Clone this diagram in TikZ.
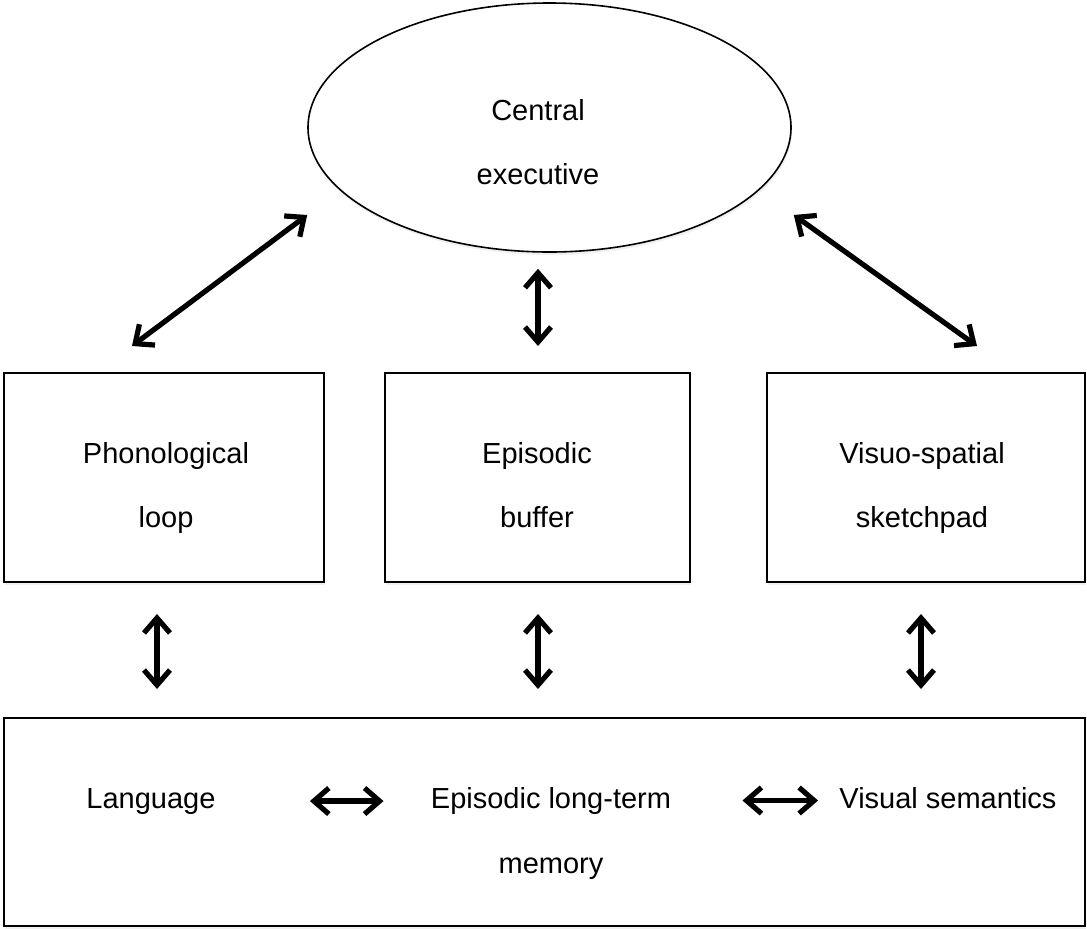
\documentclass[tikz,border=0pt]{standalone}
\usepackage{fontspec}
\setmainfont{Liberation Sans}
\usetikzlibrary{positioning,arrows.meta,shapes.geometric,shadows}

\begin{document}
\begin{tikzpicture}[x=0.5pt,y=-0.5pt,
    box/.style={draw,line width=1pt,fill=white,inner sep=0pt,
        drop shadow={opacity=0.12,shadow xshift=0.5pt,shadow yshift=-1.5pt}},
    txt/.style={anchor=base,inner sep=0pt,font=\fontsize{14.5}{17}\selectfont},
    dbl/.style={{Straight Barb[length=7.5pt,width=13pt]}-{Straight Barb[length=7.5pt,width=13pt]},
        line width=2.6pt,line cap=round,line join=round}]
    \useasboundingbox (0,0) rectangle (1087,928);

    % central executive
    \node [box,ellipse,line width=0.8pt,minimum width=241.5pt,minimum height=124.5pt] (ce) at (549.5,127.5) {};
    \node [txt] (ce1) at (538,120) {Central};
    \node [txt] (ce2) at (538,184) {executive};

    % slave systems
    \node [box,minimum width=160pt,minimum height=104.5pt] (pl) at (164,477.5) {};
    \node [txt] (pl1) at (166,463) {Phonological};
    \node [txt] (pl2) at (166,527) {loop};
    \node [box,minimum width=152.5pt,minimum height=104.5pt] (eb) at (537.5,477.5) {};
    \node [txt] (eb1) at (537,463) {Episodic};
    \node [txt] (eb2) at (537,527) {buffer};
    \node [box,minimum width=159pt,minimum height=104.5pt] (vs) at (926,477.5) {};
    \node [txt] (vs1) at (922,463) {Visuo-spatial};
    \node [txt] (vs2) at (922,527) {sketchpad};

    % long-term memory
    \node [box,minimum width=540.5pt,minimum height=104pt] (ltm) at (544.5,822) {};
    \node [txt] (lang) at (151,808) {Language};
    \node [txt] (elt) at (551,808) {Episodic long-term};
    \node [txt] (mem) at (551,873) {memory};
    \node [txt] (vsem) at (948,808) {Visual semantics};

    % arrow ends
    \coordinate [below=43.75pt of ce.west] (ce-l);
    \coordinate [below=43.75pt of ce.east, xshift=1pt] (ce-r);
    \coordinate [above=13pt of pl.north, xshift=-16pt] (pl-up);
    \coordinate [above=13pt of vs.north, xshift=25.5pt] (vs-up);

    \draw [dbl] (ce-l) -- (pl-up);
    \draw [dbl] (ce-r) -- (vs-up);
    \draw [dbl,shorten <=13pt,shorten >=8pt] ([xshift=0.25pt]eb.north) -- ([xshift=0.25pt]eb.north |- ce.south);
    \draw [dbl,shorten <=15.5pt,shorten >=14pt] ([xshift=-3.5pt]pl.south) -- ([xshift=-3.5pt]pl.south |- ltm.north);
    \draw [dbl,shorten <=15.5pt,shorten >=14pt] ([xshift=0.25pt]eb.south) -- ([xshift=0.25pt]eb.south |- ltm.north);
    \draw [dbl,shorten <=15.5pt,shorten >=14pt] ([xshift=-2.5pt]vs.south) -- ([xshift=-2.5pt]vs.south |- ltm.north);
    \draw [dbl,shorten <=47pt,shorten >=23.5pt] (lang.east) -- (lang.east -| elt.west);
    \draw [dbl,shorten <=35.5pt,shorten >=10.5pt] (elt.east) -- (elt.east -| vsem.west);
\end{tikzpicture}
\end{document}
